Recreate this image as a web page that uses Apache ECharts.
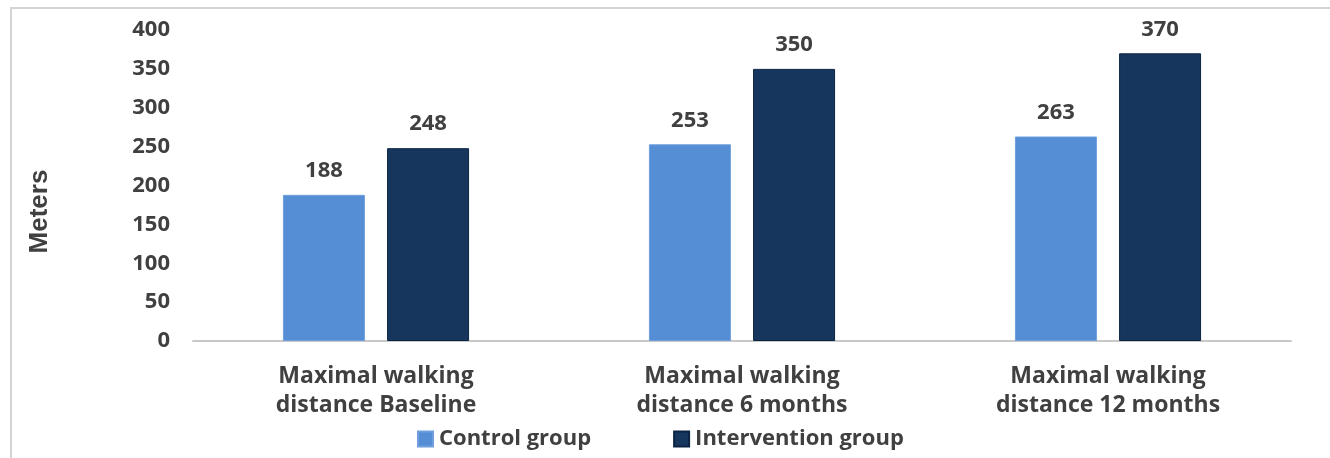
<!DOCTYPE html>
<html>
<head>
<meta charset="utf-8">
<script src="https://cdn.jsdelivr.net/npm/echarts@6/dist/echarts.min.js"></script>
<style>
html,body{margin:0;padding:0;background:#fff;}
#chart{width:1330px;height:458px;}
</style>
</head>
<body>
<div id="chart"></div>
<script>
const categories = ['Maximal walking\ndistance Baseline', 'Maximal walking\ndistance 6 months', 'Maximal walking\ndistance 12 months'];
const controlValues = [188, 253, 263];
const interventionValues = [248, 350, 370];
const seriesNames = ['Control group', 'Intervention group'];
const yAxisName = 'Meters';

const FONT = '"Open Sans", Lato, sans-serif';
const TXT = '#404040';

const chart = echarts.init(document.getElementById('chart'));
chart.setOption({
  animation: false,
  backgroundColor: '#fff',
  graphic: [{
    type: 'rect',
    shape: { x: 11, y: 8, width: 1400, height: 500 },
    style: { fill: 'none', stroke: '#d4d4d4', lineWidth: 2 },
    silent: true
  }],
  grid: { left: 193, right: 39, top: 30, bottom: 117 },
  legend: {
    data: seriesNames,
    bottom: 3,
    left: 412,
    itemWidth: 15,
    itemHeight: 15,
    itemGap: 82,
    icon: 'rect',
    textStyle: { fontFamily: FONT, fontWeight: 'bold', fontSize: 22, color: TXT, padding: [0, 0, 0, 1] }
  },
  xAxis: {
    type: 'category',
    data: categories,
    axisLine: { lineStyle: { color: '#c8c8c8', width: 2 } },
    axisTick: { show: false },
    axisLabel: {
      fontFamily: FONT, fontWeight: 'bold', fontSize: 23, color: TXT,
      lineHeight: 29, margin: 21, interval: 0
    }
  },
  yAxis: {
    type: 'value',
    min: 0, max: 400, interval: 50,
    name: yAxisName,
    nameLocation: 'middle',
    nameGap: 140,
    nameRotate: 90,
    nameTextStyle: { fontFamily: '"Liberation Sans", Arial, sans-serif', fontWeight: 'bold', fontSize: 26, color: TXT, padding: [0, 52, 0, 0] },
    axisLine: { show: false },
    axisTick: { show: false },
    splitLine: { show: false },
    axisLabel: { fontFamily: FONT, fontWeight: 'bold', fontSize: 22, color: TXT, margin: 23 }
  },
  series: [
    {
      name: seriesNames[0],
      type: 'bar',
      data: controlValues,
      barWidth: 82,
      barGap: '27%',
      itemStyle: { color: '#558ED5', borderColor: '#6f9fdc', borderWidth: 1 },
      label: { show: true, position: 'top', distance: 13, fontFamily: FONT, fontWeight: 'bold', fontSize: 22, color: TXT }
    },
    {
      name: seriesNames[1],
      type: 'bar',
      data: interventionValues,
      barWidth: 82,
      itemStyle: { color: '#17365D', borderColor: '#0c2444', borderWidth: 1 },
      label: { show: true, position: 'top', distance: 13, fontFamily: FONT, fontWeight: 'bold', fontSize: 22, color: TXT }
    }
  ]
});
</script>
</body>
</html>
